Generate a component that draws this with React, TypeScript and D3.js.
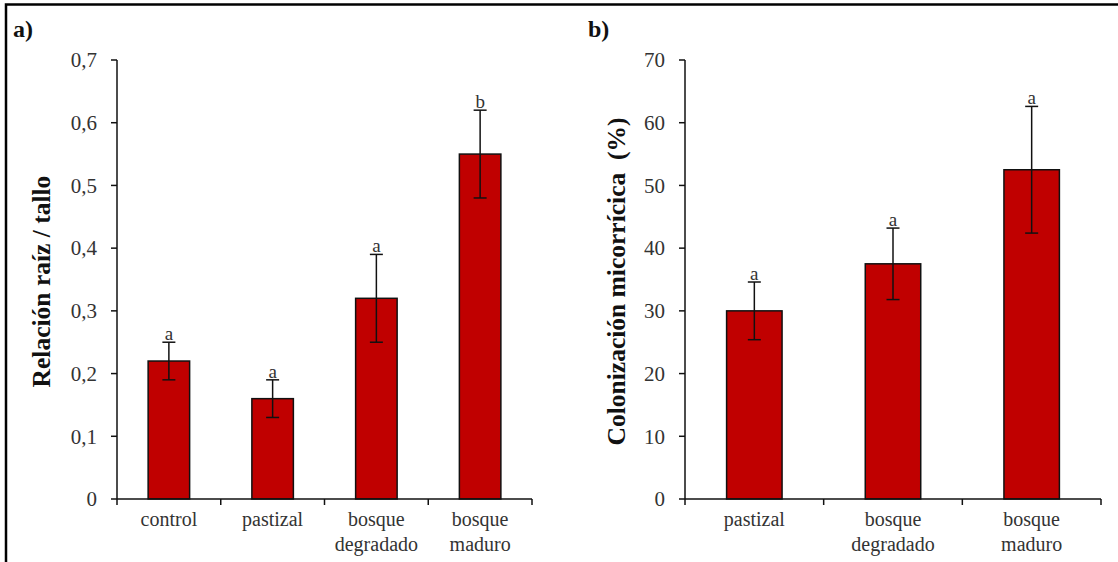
import React from "react"
import * as d3 from "d3"

// panel a: root/shoot ratio
const categoriesA = ["control", "pastizal", "bosque\ndegradado", "bosque\nmaduro"]
const valuesA = [0.22, 0.16, 0.32, 0.55]
const errorsA = [0.03, 0.03, 0.07, 0.07]
const lettersA = ["a", "a", "a", "b"]
const ticksA = [0, 0.1, 0.2, 0.3, 0.4, 0.5, 0.6, 0.7]

// panel b: mycorrhizal colonisation
const categoriesB = ["pastizal", "bosque\ndegradado", "bosque\nmaduro"]
const valuesB = [30, 37.5, 52.5]
const errorsB = [4.6, 5.7, 10.1]
const lettersB = ["a", "a", "a"]
const ticksB = [0, 10, 20, 30, 40, 50, 60, 70]

const serif = "Liberation Serif, Tinos, DejaVu Serif, serif"
const barFill = "#C00000"
const textColor = "#333"

const commaFormat = (d) => (d === 0 ? "0" : d3.format(".1f")(d).replace(".", ","))

const Panel = ({ cats, values, errors, letters, ticks, yMax, x0, x1, tickFmt, yLabel, labelX, panel, panelX }) => {
  const top = 60
  const bottom = 499
  const x = d3.scaleBand().domain(cats).range([x0, x1]).paddingInner(0.6).paddingOuter(0.3)
  const y = d3.scaleLinear().domain([0, yMax]).range([bottom, top])
  const step = x.step()
  const capW = 6.5

  return (
    <g style={{ fontFamily: serif }}>
      <text x={panelX} y={37} fontWeight="bold" fontSize={24} fill="#111">
        {panel}
      </text>
      <text
        transform={`translate(${labelX} ${(top + bottom) / 2 + 2}) rotate(-90)`}
        textAnchor="middle"
        fontWeight="bold"
        fontSize={25.5}
        fill="#111"
        style={{ whiteSpace: "pre" }}
      >
        {yLabel}
      </text>

      {cats.map((c, i) => {
        const bx = x(c)
        const cx = bx + x.bandwidth() / 2
        const hi = y(values[i] + errors[i])
        const lo = y(values[i] - errors[i])
        return (
          <g key={c}>
            <rect
              x={bx}
              y={y(values[i])}
              width={x.bandwidth()}
              height={bottom - y(values[i])}
              fill={barFill}
              stroke="#111"
              strokeWidth={1.5}
            />
            <line x1={cx} x2={cx} y1={hi} y2={lo} stroke="#111" strokeWidth={1.5} />
            <line x1={cx - capW} x2={cx + capW} y1={hi} y2={hi} stroke="#111" strokeWidth={1.5} />
            <line x1={cx - capW} x2={cx + capW} y1={lo} y2={lo} stroke="#111" strokeWidth={1.5} />
            <text x={cx} y={hi - 2} textAnchor="middle" fontSize={19} fill={textColor}>
              {letters[i]}
            </text>
            {c.split("\n").map((line, j) => (
              <text key={j} x={cx} y={526 + j * 25} textAnchor="middle" fontSize={20} fill={textColor}>
                {line}
              </text>
            ))}
          </g>
        )
      })}

      {/* y axis */}
      <line x1={x0} x2={x0} y1={top} y2={bottom} stroke="#111" strokeWidth={1.5} />
      {ticks.map((t) => (
        <g key={t}>
          <line x1={x0 - 6} x2={x0} y1={y(t)} y2={y(t)} stroke="#111" strokeWidth={1.5} />
          <text x={x0 - 20} y={y(t)} dy="0.35em" textAnchor="end" fontSize={21} fill={textColor}>
            {tickFmt(t)}
          </text>
        </g>
      ))}

      {/* x axis */}
      <line x1={x0} x2={x1} y1={bottom} y2={bottom} stroke="#111" strokeWidth={1.5} />
      {d3.range(cats.length + 1).map((i) => (
        <line
          key={i}
          x1={x0 + i * step}
          x2={x0 + i * step}
          y1={bottom}
          y2={bottom + 6}
          stroke="#111"
          strokeWidth={1.5}
        />
      ))}
    </g>
  )
}

export default function App() {
  return (
    <svg width={1118} height={562} style={{ position: "absolute", left: 0, top: 0, background: "#fff" }}>
      <path d="M6,562 V4.5 H1118" fill="none" stroke="#000" strokeWidth={2.5} />
      <Panel
        cats={categoriesA}
        values={valuesA}
        errors={errorsA}
        letters={lettersA}
        ticks={ticksA}
        yMax={0.7}
        x0={117}
        x1={532}
        tickFmt={commaFormat}
        yLabel="Relación raíz / tallo"
        labelX={50}
        panel="a)"
        panelX={13}
      />
      <Panel
        cats={categoriesB}
        values={valuesB}
        errors={errorsB}
        letters={lettersB}
        ticks={ticksB}
        yMax={70}
        x0={685}
        x1={1101}
        tickFmt={(d) => String(d)}
        yLabel="Colonización micorrícica  (%)"
        labelX={625}
        panel="b)"
        panelX={588}
      />
    </svg>
  )
}
